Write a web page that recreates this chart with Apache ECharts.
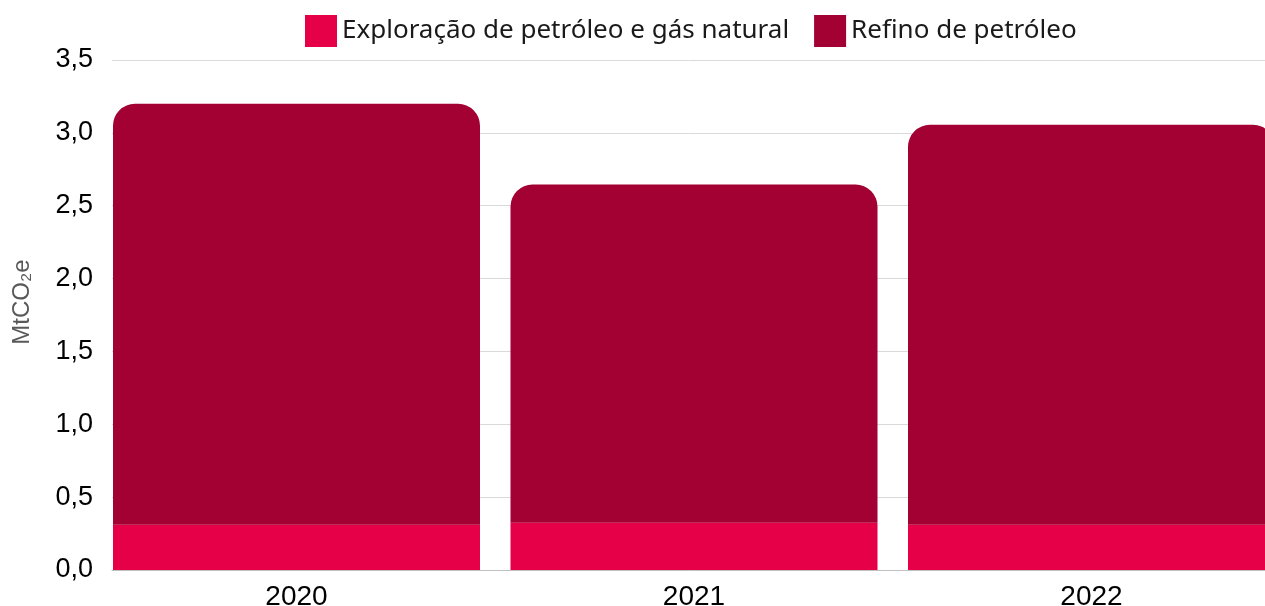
<!DOCTYPE html>
<html>
<head>
<meta charset="utf-8">
<script src="https://cdn.jsdelivr.net/npm/echarts@6/dist/echarts.min.js"></script>
<style>
html,body{margin:0;padding:0;background:#fff;}
#chart{width:1265px;height:606px;}
</style>
</head>
<body>
<div id="chart"></div>
<script>
const categories = ['2020', '2021', '2022'];
const exploracao = [0.31, 0.325, 0.31];
const refino = [2.89, 2.32, 2.745];
const seriesNames = ['Exploração de petróleo e gás natural', 'Refino de petróleo'];
const yTicks = { min: 0, max: 3.5, interval: 0.5 };
const yAxisTitle = 'MtCO₂e';

const chart = echarts.init(document.getElementById('chart'), null, { renderer: 'canvas' });
const labelFont = '"Liberation Sans", Arial, sans-serif';
chart.setOption({
  animation: false,
  backgroundColor: '#ffffff',
  legend: {
    left: 305, top: 15, padding: 0,
    itemWidth: 32, itemHeight: 32, itemGap: 25,
    icon: 'rect',
    textStyle: { fontFamily: '"Noto Sans", sans-serif', fontSize: 26, color: '#1a1a1a' },
    data: seriesNames
  },
  graphic: [
    { type: 'text', x: 22, y: 302, rotation: Math.PI / 2,
      style: { text: yAxisTitle, font: '24px "Liberation Sans", Arial, sans-serif', fill: '#595959',
        align: 'center', verticalAlign: 'middle' } }
  ],
  grid: [
    { left: 112, right: 0, top: 60, bottom: 36, containLabel: false, outerBoundsMode: 'none' },
    { left: 97.75, width: 1192.5, top: 60, bottom: 36, containLabel: false, outerBoundsMode: 'none' }
  ],
  xAxis: [
    { gridIndex: 0, type: 'category', data: categories,
      axisLine: { show: true, lineStyle: { color: '#c0c0c0', width: 1 } },
      axisTick: { show: false }, axisLabel: { show: false }, splitLine: { show: false } },
    { gridIndex: 1, type: 'category', data: categories,
      axisLine: { show: false }, axisTick: { show: false },
      axisLabel: { fontFamily: labelFont, fontSize: 28, color: '#000', margin: 13 } }
  ],
  yAxis: [
    { gridIndex: 0, type: 'value', min: yTicks.min, max: yTicks.max, interval: yTicks.interval,
      axisLine: { show: false }, axisTick: { show: false },
      axisLabel: { fontFamily: labelFont, fontSize: 27, color: '#000', margin: 19,
        formatter: v => v.toFixed(1).replace('.', ',') },
      splitLine: { show: true, lineStyle: { color: '#d9d9d9', width: 1 } } },
    { gridIndex: 1, type: 'value', min: yTicks.min, max: yTicks.max, interval: yTicks.interval,
      show: false, splitLine: { show: false } }
  ],
  series: [
    { name: seriesNames[0], type: 'bar', stack: 'total', xAxisIndex: 1, yAxisIndex: 1,
      data: exploracao, barWidth: 367, itemStyle: { color: '#E60048' } },
    { name: seriesNames[1], type: 'bar', stack: 'total', xAxisIndex: 1, yAxisIndex: 1,
      data: refino, barWidth: 367, itemStyle: { color: '#A30033', borderRadius: [22, 22, 0, 0] } }
  ]
});
</script>
</body>
</html>
